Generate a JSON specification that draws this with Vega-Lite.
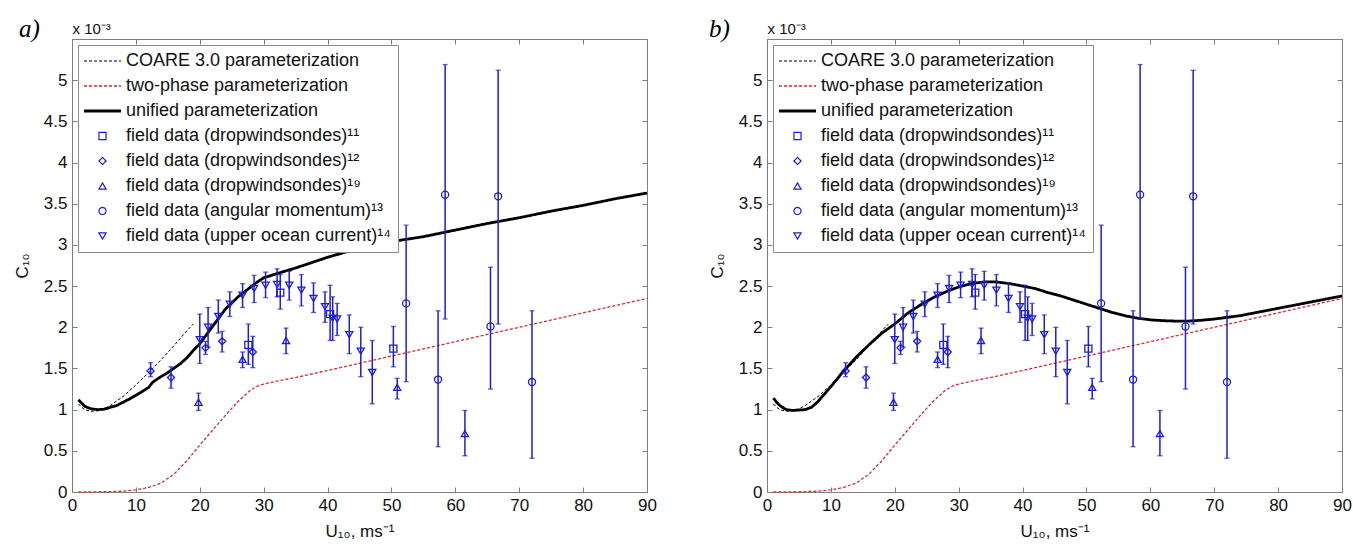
{
  "$schema": "https://vega.github.io/schema/vega-lite/v6.json",
  "padding": {"left": 12, "top": 16, "right": 5, "bottom": 2},
  "bounds": "flush",
  "spacing": 120,
  "config": {
    "font": "Liberation Sans",
    "view": {"stroke": "#7f7f7f", "strokeWidth": 1},
    "axis": {"grid": false, "labelFont": "Liberation Sans", "titleFont": "Liberation Sans", "labelFontSize": 17, "titleFontSize": 17, "titleFontWeight": "normal", "labelColor": "#111111", "titleColor": "#111111", "domainColor": "#7f7f7f", "tickColor": "#7f7f7f", "tickSize": -5, "labelPadding": 10, "labelFlush": false, "labelOverlap": false},
    "legend": {"orient": "top-left", "offset": 6, "padding": 7, "strokeColor": "#8a8a8a", "fillColor": "white", "labelFont": "Liberation Sans", "labelFontSize": 18, "labelColor": "#111111", "labelLimit": 600, "rowPadding": 7, "symbolOffset": 8.5, "labelOffset": 14.5}
  },
  "datasets": {
    "common": [
      {"series": "COARE 3.0 parameterization", "u": 1, "c": 1.07},
      {"series": "COARE 3.0 parameterization", "u": 1.5, "c": 1.03},
      {"series": "COARE 3.0 parameterization", "u": 2, "c": 1.0},
      {"series": "COARE 3.0 parameterization", "u": 3, "c": 0.98},
      {"series": "COARE 3.0 parameterization", "u": 4, "c": 0.985},
      {"series": "COARE 3.0 parameterization", "u": 5, "c": 1.01},
      {"series": "COARE 3.0 parameterization", "u": 6, "c": 1.05},
      {"series": "COARE 3.0 parameterization", "u": 8, "c": 1.16},
      {"series": "COARE 3.0 parameterization", "u": 10, "c": 1.3},
      {"series": "COARE 3.0 parameterization", "u": 12, "c": 1.45},
      {"series": "COARE 3.0 parameterization", "u": 14, "c": 1.61},
      {"series": "COARE 3.0 parameterization", "u": 16, "c": 1.78},
      {"series": "COARE 3.0 parameterization", "u": 18, "c": 1.96},
      {"series": "COARE 3.0 parameterization", "u": 19, "c": 2.04},
      {"series": "two-phase parameterization", "u": 1, "c": 0},
      {"series": "two-phase parameterization", "u": 4, "c": 0.002},
      {"series": "two-phase parameterization", "u": 6, "c": 0.005},
      {"series": "two-phase parameterization", "u": 8, "c": 0.01},
      {"series": "two-phase parameterization", "u": 10, "c": 0.025},
      {"series": "two-phase parameterization", "u": 12, "c": 0.055},
      {"series": "two-phase parameterization", "u": 14, "c": 0.11},
      {"series": "two-phase parameterization", "u": 16, "c": 0.22},
      {"series": "two-phase parameterization", "u": 18, "c": 0.38},
      {"series": "two-phase parameterization", "u": 20, "c": 0.57},
      {"series": "two-phase parameterization", "u": 22, "c": 0.75},
      {"series": "two-phase parameterization", "u": 24, "c": 0.93},
      {"series": "two-phase parameterization", "u": 26, "c": 1.1},
      {"series": "two-phase parameterization", "u": 28, "c": 1.24},
      {"series": "two-phase parameterization", "u": 29, "c": 1.285},
      {"series": "two-phase parameterization", "u": 30, "c": 1.31},
      {"series": "two-phase parameterization", "u": 32, "c": 1.345},
      {"series": "two-phase parameterization", "u": 35, "c": 1.39},
      {"series": "two-phase parameterization", "u": 40, "c": 1.475},
      {"series": "two-phase parameterization", "u": 50, "c": 1.65},
      {"series": "two-phase parameterization", "u": 60, "c": 1.825},
      {"series": "two-phase parameterization", "u": 70, "c": 2.0},
      {"series": "two-phase parameterization", "u": 80, "c": 2.175},
      {"series": "two-phase parameterization", "u": 90, "c": 2.35}
    ],
    "unifiedA": [
      {"series": "unified parameterization", "u": 1, "c": 1.12},
      {"series": "unified parameterization", "u": 1.5, "c": 1.08},
      {"series": "unified parameterization", "u": 2, "c": 1.04},
      {"series": "unified parameterization", "u": 3, "c": 1.01},
      {"series": "unified parameterization", "u": 4, "c": 1.0},
      {"series": "unified parameterization", "u": 5, "c": 1.005},
      {"series": "unified parameterization", "u": 7, "c": 1.05},
      {"series": "unified parameterization", "u": 9, "c": 1.13},
      {"series": "unified parameterization", "u": 11, "c": 1.22},
      {"series": "unified parameterization", "u": 12, "c": 1.27},
      {"series": "unified parameterization", "u": 12.6, "c": 1.33},
      {"series": "unified parameterization", "u": 13.5, "c": 1.38},
      {"series": "unified parameterization", "u": 15, "c": 1.45},
      {"series": "unified parameterization", "u": 17, "c": 1.56},
      {"series": "unified parameterization", "u": 18, "c": 1.63},
      {"series": "unified parameterization", "u": 19, "c": 1.72},
      {"series": "unified parameterization", "u": 20, "c": 1.8},
      {"series": "unified parameterization", "u": 22, "c": 2.01},
      {"series": "unified parameterization", "u": 24, "c": 2.22},
      {"series": "unified parameterization", "u": 26, "c": 2.37},
      {"series": "unified parameterization", "u": 28, "c": 2.49},
      {"series": "unified parameterization", "u": 29, "c": 2.55},
      {"series": "unified parameterization", "u": 30, "c": 2.6},
      {"series": "unified parameterization", "u": 32, "c": 2.65},
      {"series": "unified parameterization", "u": 35, "c": 2.72},
      {"series": "unified parameterization", "u": 40, "c": 2.85},
      {"series": "unified parameterization", "u": 45, "c": 2.96},
      {"series": "unified parameterization", "u": 50, "c": 3.04},
      {"series": "unified parameterization", "u": 55, "c": 3.1},
      {"series": "unified parameterization", "u": 60, "c": 3.18},
      {"series": "unified parameterization", "u": 65, "c": 3.26},
      {"series": "unified parameterization", "u": 70, "c": 3.33},
      {"series": "unified parameterization", "u": 75, "c": 3.41},
      {"series": "unified parameterization", "u": 80, "c": 3.48},
      {"series": "unified parameterization", "u": 85, "c": 3.56},
      {"series": "unified parameterization", "u": 90, "c": 3.63}
    ],
    "unifiedB": [
      {"series": "unified parameterization", "u": 1, "c": 1.14},
      {"series": "unified parameterization", "u": 1.5, "c": 1.09},
      {"series": "unified parameterization", "u": 2, "c": 1.05},
      {"series": "unified parameterization", "u": 3, "c": 1.0},
      {"series": "unified parameterization", "u": 4, "c": 0.99},
      {"series": "unified parameterization", "u": 5, "c": 0.995},
      {"series": "unified parameterization", "u": 6, "c": 1.0},
      {"series": "unified parameterization", "u": 7, "c": 1.03},
      {"series": "unified parameterization", "u": 8, "c": 1.1},
      {"series": "unified parameterization", "u": 10, "c": 1.28},
      {"series": "unified parameterization", "u": 12, "c": 1.47},
      {"series": "unified parameterization", "u": 14, "c": 1.64},
      {"series": "unified parameterization", "u": 16, "c": 1.79},
      {"series": "unified parameterization", "u": 18, "c": 1.93},
      {"series": "unified parameterization", "u": 20, "c": 2.04},
      {"series": "unified parameterization", "u": 22, "c": 2.17},
      {"series": "unified parameterization", "u": 24, "c": 2.27},
      {"series": "unified parameterization", "u": 26, "c": 2.36},
      {"series": "unified parameterization", "u": 28, "c": 2.43},
      {"series": "unified parameterization", "u": 30, "c": 2.49},
      {"series": "unified parameterization", "u": 32, "c": 2.53},
      {"series": "unified parameterization", "u": 34, "c": 2.55},
      {"series": "unified parameterization", "u": 36, "c": 2.55},
      {"series": "unified parameterization", "u": 38, "c": 2.53},
      {"series": "unified parameterization", "u": 40, "c": 2.5},
      {"series": "unified parameterization", "u": 42, "c": 2.47},
      {"series": "unified parameterization", "u": 44, "c": 2.42},
      {"series": "unified parameterization", "u": 46, "c": 2.38},
      {"series": "unified parameterization", "u": 48, "c": 2.33},
      {"series": "unified parameterization", "u": 50, "c": 2.28},
      {"series": "unified parameterization", "u": 52, "c": 2.23},
      {"series": "unified parameterization", "u": 54, "c": 2.18},
      {"series": "unified parameterization", "u": 56, "c": 2.14},
      {"series": "unified parameterization", "u": 58, "c": 2.11},
      {"series": "unified parameterization", "u": 60, "c": 2.09},
      {"series": "unified parameterization", "u": 62, "c": 2.08},
      {"series": "unified parameterization", "u": 64, "c": 2.075},
      {"series": "unified parameterization", "u": 66, "c": 2.075},
      {"series": "unified parameterization", "u": 68, "c": 2.085},
      {"series": "unified parameterization", "u": 70, "c": 2.1},
      {"series": "unified parameterization", "u": 72, "c": 2.12},
      {"series": "unified parameterization", "u": 74, "c": 2.14},
      {"series": "unified parameterization", "u": 76, "c": 2.17},
      {"series": "unified parameterization", "u": 78, "c": 2.2},
      {"series": "unified parameterization", "u": 80, "c": 2.23},
      {"series": "unified parameterization", "u": 82, "c": 2.26},
      {"series": "unified parameterization", "u": 84, "c": 2.29},
      {"series": "unified parameterization", "u": 86, "c": 2.32},
      {"series": "unified parameterization", "u": 88, "c": 2.35},
      {"series": "unified parameterization", "u": 90, "c": 2.38}
    ],
    "pts": [
      {"series": "field data (dropwindsondes)¹¹", "u": 27.6, "c": 1.785, "lo": 1.55, "hi": 2.04},
      {"series": "field data (dropwindsondes)¹¹", "u": 32.6, "c": 2.42, "lo": 2.22, "hi": 2.64},
      {"series": "field data (dropwindsondes)¹¹", "u": 40.4, "c": 2.16, "lo": 1.84, "hi": 2.51},
      {"series": "field data (dropwindsondes)¹¹", "u": 50.3, "c": 1.74, "lo": 1.52, "hi": 2.01},
      {"series": "field data (dropwindsondes)¹²", "u": 12.3, "c": 1.47, "lo": 1.4, "hi": 1.57},
      {"series": "field data (dropwindsondes)¹²", "u": 15.5, "c": 1.39, "lo": 1.26, "hi": 1.52},
      {"series": "field data (dropwindsondes)¹²", "u": 20.9, "c": 1.75, "lo": 1.67, "hi": 1.83},
      {"series": "field data (dropwindsondes)¹²", "u": 23.5, "c": 1.83, "lo": 1.7, "hi": 1.95},
      {"series": "field data (dropwindsondes)¹²", "u": 28.3, "c": 1.7, "lo": 1.51, "hi": 1.89},
      {"series": "field data (dropwindsondes)¹⁹", "u": 19.8, "c": 1.09, "lo": 0.99, "hi": 1.2},
      {"series": "field data (dropwindsondes)¹⁹", "u": 26.7, "c": 1.61, "lo": 1.51, "hi": 1.7},
      {"series": "field data (dropwindsondes)¹⁹", "u": 33.5, "c": 1.84, "lo": 1.68, "hi": 1.99},
      {"series": "field data (dropwindsondes)¹⁹", "u": 50.9, "c": 1.27, "lo": 1.13, "hi": 1.38},
      {"series": "field data (dropwindsondes)¹⁹", "u": 61.5, "c": 0.71, "lo": 0.44, "hi": 0.99},
      {"series": "field data (angular momentum)¹³", "u": 52.3, "c": 2.29, "lo": 1.34, "hi": 3.24},
      {"series": "field data (angular momentum)¹³", "u": 57.3, "c": 1.365, "lo": 0.55, "hi": 2.2},
      {"series": "field data (angular momentum)¹³", "u": 58.4, "c": 3.61, "lo": 2.1, "hi": 5.19},
      {"series": "field data (angular momentum)¹³", "u": 65.5, "c": 2.01, "lo": 1.25, "hi": 2.73},
      {"series": "field data (angular momentum)¹³", "u": 66.7, "c": 3.59, "lo": 2.04, "hi": 5.12},
      {"series": "field data (angular momentum)¹³", "u": 72.0, "c": 1.335, "lo": 0.41, "hi": 2.2},
      {"series": "field data (upper ocean current)¹⁴", "u": 20.0, "c": 1.85, "lo": 1.56, "hi": 2.16},
      {"series": "field data (upper ocean current)¹⁴", "u": 21.3, "c": 2.0, "lo": 1.76, "hi": 2.24},
      {"series": "field data (upper ocean current)¹⁴", "u": 22.9, "c": 2.13, "lo": 1.93, "hi": 2.33},
      {"series": "field data (upper ocean current)¹⁴", "u": 24.7, "c": 2.28, "lo": 2.13, "hi": 2.43},
      {"series": "field data (upper ocean current)¹⁴", "u": 26.7, "c": 2.39, "lo": 2.24, "hi": 2.53},
      {"series": "field data (upper ocean current)¹⁴", "u": 28.5, "c": 2.47, "lo": 2.3, "hi": 2.63},
      {"series": "field data (upper ocean current)¹⁴", "u": 30.3, "c": 2.51, "lo": 2.36, "hi": 2.67},
      {"series": "field data (upper ocean current)¹⁴", "u": 32.1, "c": 2.52, "lo": 2.37, "hi": 2.71},
      {"series": "field data (upper ocean current)¹⁴", "u": 34.0, "c": 2.51, "lo": 2.33, "hi": 2.68},
      {"series": "field data (upper ocean current)¹⁴", "u": 35.9, "c": 2.45, "lo": 2.26, "hi": 2.64},
      {"series": "field data (upper ocean current)¹⁴", "u": 37.8, "c": 2.35, "lo": 2.18, "hi": 2.54},
      {"series": "field data (upper ocean current)¹⁴", "u": 39.6, "c": 2.25, "lo": 2.06, "hi": 2.43},
      {"series": "field data (upper ocean current)¹⁴", "u": 40.8, "c": 2.11, "lo": 1.84, "hi": 2.37},
      {"series": "field data (upper ocean current)¹⁴", "u": 41.5, "c": 2.1, "lo": 1.9, "hi": 2.29},
      {"series": "field data (upper ocean current)¹⁴", "u": 43.4, "c": 1.91, "lo": 1.68, "hi": 2.15},
      {"series": "field data (upper ocean current)¹⁴", "u": 45.2, "c": 1.71, "lo": 1.4, "hi": 2.0},
      {"series": "field data (upper ocean current)¹⁴", "u": 47.0, "c": 1.45, "lo": 1.07, "hi": 1.84}
    ]
  },
  "resolve": {
    "scale": {"color": "independent", "shape": "independent", "size": "independent", "strokeDash": "independent", "strokeWidth": "independent"},
    "legend": {"color": "independent", "shape": "independent", "size": "independent", "strokeDash": "independent", "strokeWidth": "independent"}
  },
  "hconcat": [
    {
      "width": 575, "height": 453,
      "title": {"text": "a)", "anchor": "start", "frame": "group", "dx": -53, "dy": 41, "baseline": "alphabetic", "font": "Liberation Serif", "fontStyle": "italic", "fontSize": 25, "fontWeight": "normal", "offset": 0},
      "resolve": {"axis": {"x": "independent", "y": "independent"}},
      "layer": [
        {
          "data": {"name": "common"},
          "mark": {"type": "line", "strokeCap": "butt"},
          "encoding": {
            "x": {"field": "u", "type": "quantitative", "scale": {"domain": [0, 90], "nice": false, "zero": false}, "axis": {"values": [0, 10, 20, 30, 40, 50, 60, 70, 80, 90], "title": "U₁₀, ms⁻¹", "titlePadding": 10}},
            "y": {"field": "c", "type": "quantitative", "scale": {"domain": [0, 5.5], "nice": false}, "axis": {"values": [0, 0.5, 1, 1.5, 2, 2.5, 3, 3.5, 4, 4.5, 5], "title": "C₁₀", "labelExpr": "format(datum.value, '~g')", "titlePadding": 12}},
            "color": {"field": "series", "type": "nominal", "scale": {"domain": ["COARE 3.0 parameterization", "two-phase parameterization", "unified parameterization", "field data (dropwindsondes)¹¹", "field data (dropwindsondes)¹²", "field data (dropwindsondes)¹⁹", "field data (angular momentum)¹³", "field data (upper ocean current)¹⁴"], "range": ["#000000", "#e3242b", "#000000", "#1c1ce0", "#1c1ce0", "#1c1ce0", "#1c1ce0", "#1c1ce0"]}, "legend": {"title": null}},
            "strokeDash": {"field": "series", "type": "nominal", "scale": {"domain": ["COARE 3.0 parameterization", "two-phase parameterization", "unified parameterization", "field data (dropwindsondes)¹¹", "field data (dropwindsondes)¹²", "field data (dropwindsondes)¹⁹", "field data (angular momentum)¹³", "field data (upper ocean current)¹⁴"], "range": [[3, 2], [3, 2], [1, 0], [1, 0], [1, 0], [1, 0], [1, 0], [1, 0]]}, "legend": {"title": null}},
            "strokeWidth": {"field": "series", "type": "nominal", "scale": {"type": "ordinal", "domain": ["COARE 3.0 parameterization", "two-phase parameterization", "unified parameterization", "field data (dropwindsondes)¹¹", "field data (dropwindsondes)¹²", "field data (dropwindsondes)¹⁹", "field data (angular momentum)¹³", "field data (upper ocean current)¹⁴"], "range": [1, 1.3, 2.8, 1.2, 1.2, 1.2, 1.2, 1.2]}, "legend": {"title": null}}
          }
        },
        {
          "data": {"name": "unifiedA"},
          "mark": {"type": "line", "strokeCap": "butt"},
          "encoding": {
            "x": {"field": "u", "type": "quantitative", "axis": null},
            "y": {"field": "c", "type": "quantitative", "axis": null},
            "color": {"field": "series", "type": "nominal", "scale": {"domain": ["COARE 3.0 parameterization", "two-phase parameterization", "unified parameterization", "field data (dropwindsondes)¹¹", "field data (dropwindsondes)¹²", "field data (dropwindsondes)¹⁹", "field data (angular momentum)¹³", "field data (upper ocean current)¹⁴"], "range": ["#000000", "#e3242b", "#000000", "#1c1ce0", "#1c1ce0", "#1c1ce0", "#1c1ce0", "#1c1ce0"]}, "legend": {"title": null}},
            "strokeDash": {"field": "series", "type": "nominal", "scale": {"domain": ["COARE 3.0 parameterization", "two-phase parameterization", "unified parameterization", "field data (dropwindsondes)¹¹", "field data (dropwindsondes)¹²", "field data (dropwindsondes)¹⁹", "field data (angular momentum)¹³", "field data (upper ocean current)¹⁴"], "range": [[3, 2], [3, 2], [1, 0], [1, 0], [1, 0], [1, 0], [1, 0], [1, 0]]}, "legend": {"title": null}},
            "strokeWidth": {"field": "series", "type": "nominal", "scale": {"type": "ordinal", "domain": ["COARE 3.0 parameterization", "two-phase parameterization", "unified parameterization", "field data (dropwindsondes)¹¹", "field data (dropwindsondes)¹²", "field data (dropwindsondes)¹⁹", "field data (angular momentum)¹³", "field data (upper ocean current)¹⁴"], "range": [1, 1.3, 2.8, 1.2, 1.2, 1.2, 1.2, 1.2]}, "legend": {"title": null}}
          }
        },
        {
          "data": {"name": "pts"},
          "mark": {"type": "rule", "color": "#1c1ce0", "strokeWidth": 1.5},
          "encoding": {
            "x": {"field": "u", "type": "quantitative", "axis": {"orient": "top", "labels": false, "values": [0, 10, 20, 30, 40, 50, 60, 70, 80, 90], "title": "x 10⁻³", "titleAngle": 0, "titleAlign": "left", "titleBaseline": "alphabetic", "titleX": 0, "titleY": -6, "titleFontSize": 15}},
            "y": {"field": "lo", "type": "quantitative", "axis": {"orient": "right", "labels": false, "values": [0, 0.5, 1, 1.5, 2, 2.5, 3, 3.5, 4, 4.5, 5], "title": null}},
            "y2": {"field": "hi"}
          }
        },
        {
          "data": {"name": "pts"},
          "mark": {"type": "tick", "orient": "horizontal", "color": "#1c1ce0", "size": 5, "thickness": 1.3},
          "encoding": {
            "x": {"field": "u", "type": "quantitative", "axis": null},
            "y": {"field": "lo", "type": "quantitative", "axis": null}
          }
        },
        {
          "data": {"name": "pts"},
          "mark": {"type": "tick", "orient": "horizontal", "color": "#1c1ce0", "size": 5, "thickness": 1.3},
          "encoding": {
            "x": {"field": "u", "type": "quantitative", "axis": null},
            "y": {"field": "hi", "type": "quantitative", "axis": null}
          }
        },
        {
          "data": {"name": "pts"},
          "mark": {"type": "point", "filled": false, "strokeWidth": 1.3, "opacity": 1},
          "encoding": {
            "x": {"field": "u", "type": "quantitative", "axis": null},
            "y": {"field": "c", "type": "quantitative", "axis": null},
            "color": {"field": "series", "type": "nominal", "scale": {"domain": ["COARE 3.0 parameterization", "two-phase parameterization", "unified parameterization", "field data (dropwindsondes)¹¹", "field data (dropwindsondes)¹²", "field data (dropwindsondes)¹⁹", "field data (angular momentum)¹³", "field data (upper ocean current)¹⁴"], "range": ["#000000", "#e3242b", "#000000", "#1c1ce0", "#1c1ce0", "#1c1ce0", "#1c1ce0", "#1c1ce0"]}, "legend": {"title": null}},
            "shape": {"field": "series", "type": "nominal", "scale": {"domain": ["COARE 3.0 parameterization", "two-phase parameterization", "unified parameterization", "field data (dropwindsondes)¹¹", "field data (dropwindsondes)¹²", "field data (dropwindsondes)¹⁹", "field data (angular momentum)¹³", "field data (upper ocean current)¹⁴"], "range": ["M-3,0H3", "M-3,0H3", "M-3,0H3", "square", "diamond", "triangle-up", "circle", "triangle-down"]}, "legend": {"title": null}},
            "size": {"field": "series", "type": "nominal", "scale": {"type": "ordinal", "domain": ["COARE 3.0 parameterization", "two-phase parameterization", "unified parameterization", "field data (dropwindsondes)¹¹", "field data (dropwindsondes)¹²", "field data (dropwindsondes)¹⁹", "field data (angular momentum)¹³", "field data (upper ocean current)¹⁴"], "range": [152, 152, 152, 50, 50, 50, 50, 50]}, "legend": {"title": null}}
          }
        }
      ]
    },
    {
      "width": 575, "height": 453,
      "title": {"text": "b)", "anchor": "start", "frame": "group", "dx": -58, "dy": 41, "baseline": "alphabetic", "font": "Liberation Serif", "fontStyle": "italic", "fontSize": 25, "fontWeight": "normal", "offset": 0},
      "resolve": {"axis": {"x": "independent", "y": "independent"}},
      "layer": [
        {
          "data": {"name": "common"},
          "mark": {"type": "line", "strokeCap": "butt"},
          "encoding": {
            "x": {"field": "u", "type": "quantitative", "scale": {"domain": [0, 90], "nice": false, "zero": false}, "axis": {"values": [0, 10, 20, 30, 40, 50, 60, 70, 80, 90], "title": "U₁₀, ms⁻¹", "titlePadding": 10}},
            "y": {"field": "c", "type": "quantitative", "scale": {"domain": [0, 5.5], "nice": false}, "axis": {"values": [0, 0.5, 1, 1.5, 2, 2.5, 3, 3.5, 4, 4.5, 5], "title": "C₁₀", "labelExpr": "format(datum.value, '~g')", "titlePadding": 12}},
            "color": {"field": "series", "type": "nominal", "scale": {"domain": ["COARE 3.0 parameterization", "two-phase parameterization", "unified parameterization", "field data (dropwindsondes)¹¹", "field data (dropwindsondes)¹²", "field data (dropwindsondes)¹⁹", "field data (angular momentum)¹³", "field data (upper ocean current)¹⁴"], "range": ["#000000", "#e3242b", "#000000", "#1c1ce0", "#1c1ce0", "#1c1ce0", "#1c1ce0", "#1c1ce0"]}, "legend": {"title": null}},
            "strokeDash": {"field": "series", "type": "nominal", "scale": {"domain": ["COARE 3.0 parameterization", "two-phase parameterization", "unified parameterization", "field data (dropwindsondes)¹¹", "field data (dropwindsondes)¹²", "field data (dropwindsondes)¹⁹", "field data (angular momentum)¹³", "field data (upper ocean current)¹⁴"], "range": [[3, 2], [3, 2], [1, 0], [1, 0], [1, 0], [1, 0], [1, 0], [1, 0]]}, "legend": {"title": null}},
            "strokeWidth": {"field": "series", "type": "nominal", "scale": {"type": "ordinal", "domain": ["COARE 3.0 parameterization", "two-phase parameterization", "unified parameterization", "field data (dropwindsondes)¹¹", "field data (dropwindsondes)¹²", "field data (dropwindsondes)¹⁹", "field data (angular momentum)¹³", "field data (upper ocean current)¹⁴"], "range": [1, 1.3, 2.8, 1.2, 1.2, 1.2, 1.2, 1.2]}, "legend": {"title": null}}
          }
        },
        {
          "data": {"name": "unifiedB"},
          "mark": {"type": "line", "strokeCap": "butt"},
          "encoding": {
            "x": {"field": "u", "type": "quantitative", "axis": null},
            "y": {"field": "c", "type": "quantitative", "axis": null},
            "color": {"field": "series", "type": "nominal", "scale": {"domain": ["COARE 3.0 parameterization", "two-phase parameterization", "unified parameterization", "field data (dropwindsondes)¹¹", "field data (dropwindsondes)¹²", "field data (dropwindsondes)¹⁹", "field data (angular momentum)¹³", "field data (upper ocean current)¹⁴"], "range": ["#000000", "#e3242b", "#000000", "#1c1ce0", "#1c1ce0", "#1c1ce0", "#1c1ce0", "#1c1ce0"]}, "legend": {"title": null}},
            "strokeDash": {"field": "series", "type": "nominal", "scale": {"domain": ["COARE 3.0 parameterization", "two-phase parameterization", "unified parameterization", "field data (dropwindsondes)¹¹", "field data (dropwindsondes)¹²", "field data (dropwindsondes)¹⁹", "field data (angular momentum)¹³", "field data (upper ocean current)¹⁴"], "range": [[3, 2], [3, 2], [1, 0], [1, 0], [1, 0], [1, 0], [1, 0], [1, 0]]}, "legend": {"title": null}},
            "strokeWidth": {"field": "series", "type": "nominal", "scale": {"type": "ordinal", "domain": ["COARE 3.0 parameterization", "two-phase parameterization", "unified parameterization", "field data (dropwindsondes)¹¹", "field data (dropwindsondes)¹²", "field data (dropwindsondes)¹⁹", "field data (angular momentum)¹³", "field data (upper ocean current)¹⁴"], "range": [1, 1.3, 2.8, 1.2, 1.2, 1.2, 1.2, 1.2]}, "legend": {"title": null}}
          }
        },
        {
          "data": {"name": "pts"},
          "mark": {"type": "rule", "color": "#1c1ce0", "strokeWidth": 1.5},
          "encoding": {
            "x": {"field": "u", "type": "quantitative", "axis": {"orient": "top", "labels": false, "values": [0, 10, 20, 30, 40, 50, 60, 70, 80, 90], "title": "x 10⁻³", "titleAngle": 0, "titleAlign": "left", "titleBaseline": "alphabetic", "titleX": 0, "titleY": -6, "titleFontSize": 15}},
            "y": {"field": "lo", "type": "quantitative", "axis": {"orient": "right", "labels": false, "values": [0, 0.5, 1, 1.5, 2, 2.5, 3, 3.5, 4, 4.5, 5], "title": null}},
            "y2": {"field": "hi"}
          }
        },
        {
          "data": {"name": "pts"},
          "mark": {"type": "tick", "orient": "horizontal", "color": "#1c1ce0", "size": 5, "thickness": 1.3},
          "encoding": {
            "x": {"field": "u", "type": "quantitative", "axis": null},
            "y": {"field": "lo", "type": "quantitative", "axis": null}
          }
        },
        {
          "data": {"name": "pts"},
          "mark": {"type": "tick", "orient": "horizontal", "color": "#1c1ce0", "size": 5, "thickness": 1.3},
          "encoding": {
            "x": {"field": "u", "type": "quantitative", "axis": null},
            "y": {"field": "hi", "type": "quantitative", "axis": null}
          }
        },
        {
          "data": {"name": "pts"},
          "mark": {"type": "point", "filled": false, "strokeWidth": 1.3, "opacity": 1},
          "encoding": {
            "x": {"field": "u", "type": "quantitative", "axis": null},
            "y": {"field": "c", "type": "quantitative", "axis": null},
            "color": {"field": "series", "type": "nominal", "scale": {"domain": ["COARE 3.0 parameterization", "two-phase parameterization", "unified parameterization", "field data (dropwindsondes)¹¹", "field data (dropwindsondes)¹²", "field data (dropwindsondes)¹⁹", "field data (angular momentum)¹³", "field data (upper ocean current)¹⁴"], "range": ["#000000", "#e3242b", "#000000", "#1c1ce0", "#1c1ce0", "#1c1ce0", "#1c1ce0", "#1c1ce0"]}, "legend": {"title": null}},
            "shape": {"field": "series", "type": "nominal", "scale": {"domain": ["COARE 3.0 parameterization", "two-phase parameterization", "unified parameterization", "field data (dropwindsondes)¹¹", "field data (dropwindsondes)¹²", "field data (dropwindsondes)¹⁹", "field data (angular momentum)¹³", "field data (upper ocean current)¹⁴"], "range": ["M-3,0H3", "M-3,0H3", "M-3,0H3", "square", "diamond", "triangle-up", "circle", "triangle-down"]}, "legend": {"title": null}},
            "size": {"field": "series", "type": "nominal", "scale": {"type": "ordinal", "domain": ["COARE 3.0 parameterization", "two-phase parameterization", "unified parameterization", "field data (dropwindsondes)¹¹", "field data (dropwindsondes)¹²", "field data (dropwindsondes)¹⁹", "field data (angular momentum)¹³", "field data (upper ocean current)¹⁴"], "range": [152, 152, 152, 50, 50, 50, 50, 50]}, "legend": {"title": null}}
          }
        }
      ]
    }
  ]
}
